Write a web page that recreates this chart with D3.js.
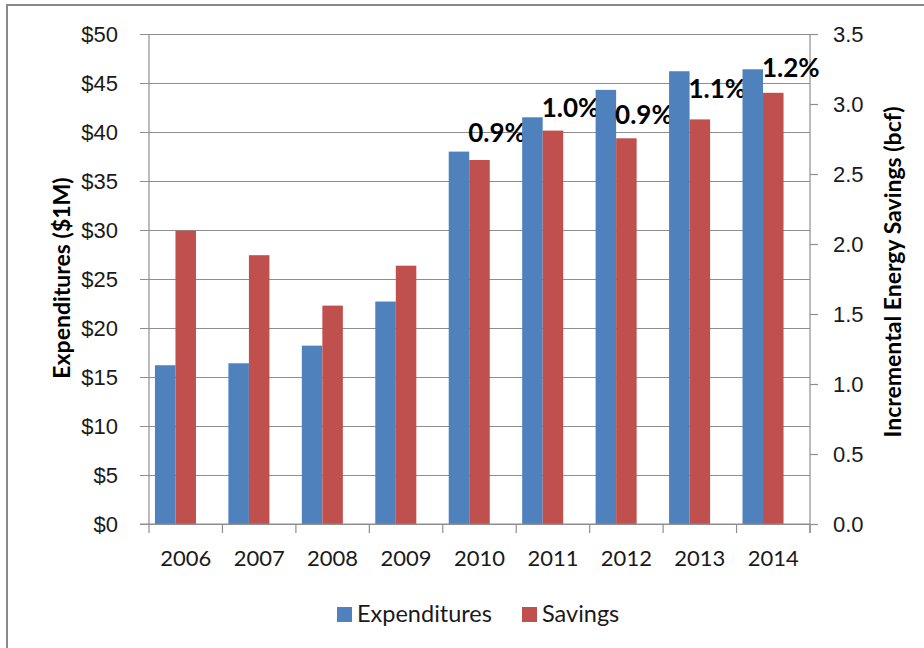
<!DOCTYPE html>
<html>
<head>
<meta charset="utf-8">
<script src="https://cdn.jsdelivr.net/npm/d3@7"></script>
<style>
  html, body { margin: 0; padding: 0; background: #fff; }
  svg { display: block; font-family: Lato, "Open Sans", sans-serif; }
</style>
</head>
<body>
<svg id="chart" width="924" height="648"></svg>
<script>
// data
var years = ['2006', '2007', '2008', '2009', '2010', '2011', '2012', '2013', '2014']
var expenditures = [16.2, 16.4, 18.2, 22.7, 38.0, 41.5, 44.3, 46.2, 46.4]   // $1M, left axis
var savings = [2.095, 1.92, 1.56, 1.845, 2.6, 2.81, 2.755, 2.89, 3.08]     // bcf, right axis
var pctLabels = ['', '', '', '', '0.9%', '1.0%', '0.9%', '1.1%', '1.2%']
var pctLabelAt = [0, 0, 0, 0, 2.73, 2.91, 2.86, 3.04, 3.19]                // bcf, where each label sits
var leftTicks = [0, 5, 10, 15, 20, 25, 30, 35, 40, 45, 50]
var rightTicks = [0, 0.5, 1, 1.5, 2, 2.5, 3, 3.5]
var seriesNames = ['Expenditures', 'Savings']
var seriesColors = ['#4f81bd', '#c0504d']

var svg = d3.select('#chart')
var plotLeft = 149, plotRight = 810, plotTop = 34, plotBottom = 524
var gridColor = '#8e8e8e'
var textColor = '#1a1a1a'

// outer frame (only top and left show inside the picture)
svg.append('rect')
  .attr('x', 7).attr('y', 5)
  .attr('width', 940).attr('height', 700)
  .attr('fill', '#fff')
  .attr('stroke', '#8a8a8a')
  .attr('stroke-width', 2)

var x = d3.scaleBand().domain(years).range([plotLeft, plotRight]).padding(0)
var slot = d3.scaleBand().domain(['exp', 'sav', 'pct']).range([0, x.bandwidth()])
  .paddingInner(0).paddingOuter(0.29)
var yL = d3.scaleLinear().domain([0, 50]).range([plotBottom, plotTop])
var yR = d3.scaleLinear().domain([0, 3.5]).range([plotBottom, plotTop])

// gridlines + left axis
var leftAxis = d3.axisLeft(yL).tickValues(leftTicks)
  .tickSize(-(plotRight - plotLeft)).tickSizeOuter(0).tickPadding(31)
  .tickFormat(function(d) { return '$' + d })
var gL = svg.append('g').attr('transform', 'translate(' + plotLeft + ',0)').call(leftAxis)
gL.select('.domain').remove()
gL.selectAll('.tick line').attr('x1', -9).attr('stroke', gridColor).attr('stroke-width', 1.2)
gL.selectAll('.tick text').attr('font-size', 22).attr('fill', textColor).attr('dy', '0.34em')
svg.append('line')
  .attr('x1', plotLeft).attr('x2', plotLeft).attr('y1', plotTop).attr('y2', plotBottom)
  .attr('stroke', gridColor).attr('stroke-width', 1.2)

// right axis
var rightAxis = d3.axisRight(yR).tickValues(rightTicks)
  .tickSize(8).tickSizeOuter(0).tickPadding(15)
  .tickFormat(d3.format('.1f'))
var gR = svg.append('g').attr('transform', 'translate(' + plotRight + ',0)').call(rightAxis)
gR.select('.domain').remove()
gR.selectAll('.tick line').attr('stroke', gridColor).attr('stroke-width', 1.2)
gR.selectAll('.tick text').attr('font-size', 22).attr('fill', textColor).attr('dy', '0.34em')
svg.append('line')
  .attr('x1', plotRight).attr('x2', plotRight).attr('y1', plotTop).attr('y2', plotBottom + 9)
  .attr('stroke', gridColor).attr('stroke-width', 1.2)

// bars
var groups = svg.append('g').selectAll('g').data(years).enter().append('g')
  .attr('transform', function(d) { return 'translate(' + x(d) + ',0)' })

groups.append('rect')
  .attr('x', slot('exp'))
  .attr('width', slot.bandwidth())
  .attr('y', function(d, i) { return yL(expenditures[i]) })
  .attr('height', function(d, i) { return plotBottom - yL(expenditures[i]) })
  .attr('fill', seriesColors[0])

groups.append('rect')
  .attr('x', slot('sav'))
  .attr('width', slot.bandwidth())
  .attr('y', function(d, i) { return yR(savings[i]) })
  .attr('height', function(d, i) { return plotBottom - yR(savings[i]) })
  .attr('fill', seriesColors[1])

groups.append('text')
  .attr('x', slot('pct') + slot.bandwidth() / 2 - 3)
  .attr('y', function(d, i) { return yR(pctLabelAt[i]) })
  .attr('text-anchor', 'middle')
  .attr('font-size', 26)
  .attr('font-weight', 'bold')
  .attr('fill', '#000')
  .text(function(d, i) { return pctLabels[i] })

// bottom axis (ticks at category boundaries)
svg.append('line')
  .attr('x1', plotLeft - 9).attr('x2', plotRight).attr('y1', plotBottom).attr('y2', plotBottom)
  .attr('stroke', gridColor).attr('stroke-width', 1.2)
var bounds = years.map(function(d) { return x(d) }).concat([plotRight])
svg.append('g').selectAll('line').data(bounds).enter().append('line')
  .attr('x1', function(d) { return d }).attr('x2', function(d) { return d })
  .attr('y1', plotBottom).attr('y2', plotBottom + 9)
  .attr('stroke', gridColor).attr('stroke-width', 1.2)
svg.append('g').selectAll('text').data(years).enter().append('text')
  .attr('x', function(d) { return x(d) + x.bandwidth() / 2 })
  .attr('y', 566)
  .attr('text-anchor', 'middle')
  .attr('font-size', 22)
  .attr('fill', textColor)
  .text(function(d) { return d })

// axis titles
svg.append('text')
  .attr('transform', 'translate(70,278) rotate(-90)')
  .attr('text-anchor', 'middle')
  .attr('font-size', 23)
  .attr('font-weight', 'bold')
  .attr('fill', '#000')
  .text('Expenditures ($1M)')

svg.append('text')
  .attr('transform', 'translate(901,272) rotate(-90)')
  .attr('text-anchor', 'middle')
  .attr('font-size', 23)
  .attr('font-weight', 'bold')
  .attr('fill', '#000')
  .text('Incremental Energy Savings (bcf)')

// legend
var legendX = [337, 522]
var legend = svg.append('g').selectAll('g').data(seriesNames).enter().append('g')
  .attr('transform', function(d, i) { return 'translate(' + legendX[i] + ',607)' })
legend.append('rect')
  .attr('width', 15).attr('height', 15)
  .attr('fill', function(d, i) { return seriesColors[i] })
legend.append('text')
  .attr('x', 20).attr('y', 15)
  .attr('font-size', 23.5)
  .attr('fill', textColor)
  .text(function(d) { return d })
</script>
</body>
</html>
